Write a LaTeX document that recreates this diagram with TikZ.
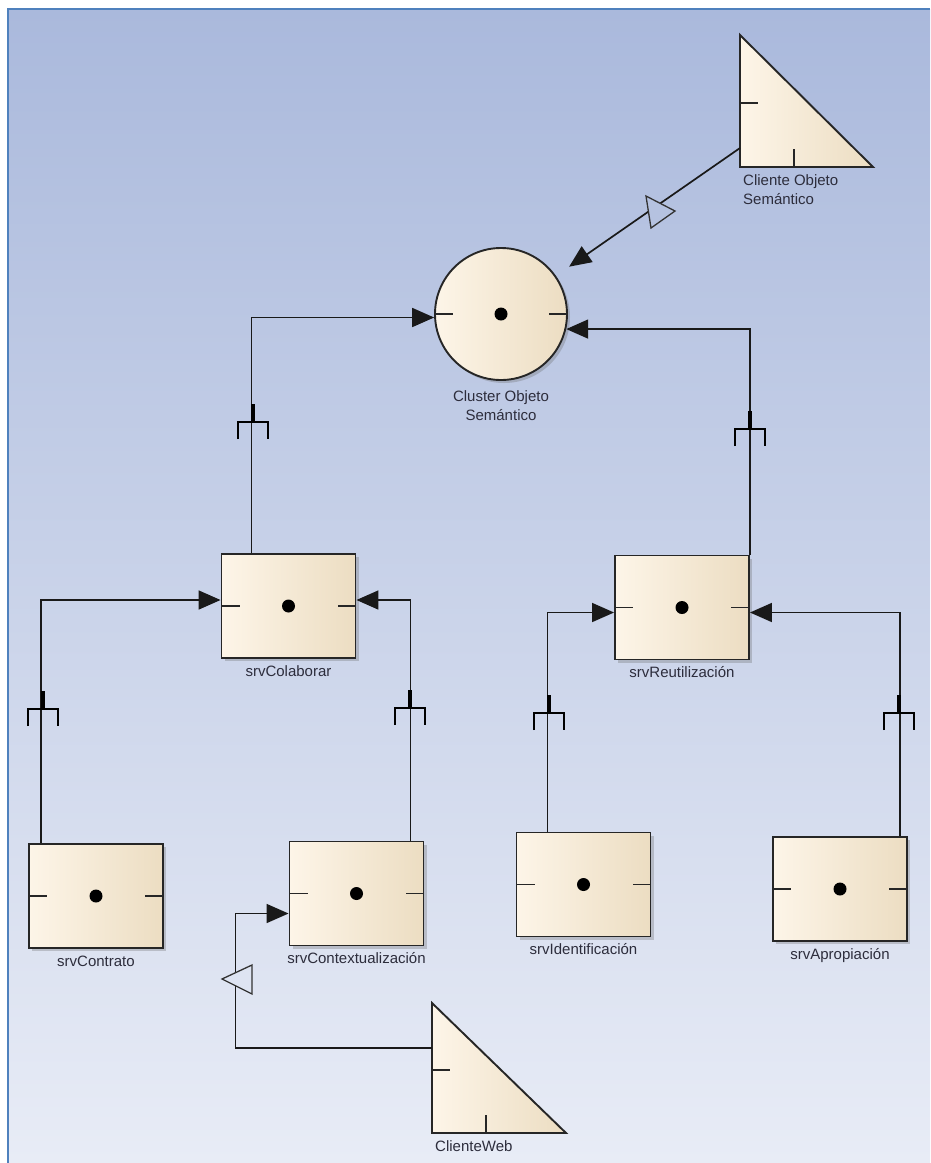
\documentclass[tikz,border=0pt]{standalone}
\usepackage{fontspec}
\setmainfont{Liberation Sans}
\usetikzlibrary{arrows.meta, positioning, calc, shadows}
\definecolor{bgtop}{RGB}{170,185,220}
\definecolor{bgbottom}{RGB}{232,236,246}
\definecolor{frameblue}{RGB}{79,129,189}
\definecolor{creamlight}{RGB}{253,245,232}
\definecolor{creamdark}{RGB}{236,221,194}
\definecolor{labelgray}{RGB}{45,45,60}
\definecolor{markbgtop}{RGB}{181,194,224}
\definecolor{markbgbot}{RGB}{222,228,242}

\begin{document}
\begin{tikzpicture}[
    x=1pt, y=-1pt,
    srvbox/.style={rectangle, draw=black!85, line width=1.9pt, left color=creamlight, right color=creamdark,
        minimum width=134pt, minimum height=104pt, inner sep=0pt,
        drop shadow={shadow xshift=3pt, shadow yshift=-3pt, opacity=0.3, fill=black!60},
        path picture={
            \draw[line width=1.8pt] (path picture bounding box.west) -- ++(18pt,0pt);
            \draw[line width=1.8pt] (path picture bounding box.east) -- ++(-18pt,0pt);
            \fill (path picture bounding box.center) circle (6.5pt);
        }},
    cluster/.style={srvbox, circle, minimum size=132pt},
    tri/.style={draw=black!85, line width=1.9pt, left color=creamlight, right color=creamdark},
    tick/.style={line width=1.6pt, draw=black!85},
    lbl/.style={font=\fontsize{15}{19}\selectfont, text=labelgray, inner sep=0pt},
    boxlbl/.style={lbl, text height=11pt, text depth=3pt},
    conn/.style={line width=1.7pt, draw=black!90, -{Triangle[length=22pt,width=19pt]}},
    openmark/.style={line width=1.3pt, draw=black!80},
    reqfork/.pic={
        \draw[line width=3.5pt] (0,-18) -- (0,0);
        \draw[line width=1.7pt] (-15,17) -- (-15,0) -- (15,0) -- (15,17);
    }
]
\useasboundingbox (0,0) rectangle (930,1163);
% background and frame
\fill[white] (0,0) rectangle (930,1163);
\shade[top color=bgtop, bottom color=bgbottom] (8,9) rectangle (930,1163);
\draw[frameblue, line width=2.5pt] (8,1163) -- (8,9) -- (930,9);

% actors
\draw[tri] (740,35) -- (740,167) -- (873,167) -- cycle;
\draw[tick] (740,103) -- (758,103);
\draw[tick] (794,149) -- (794,167);
\coordinate (cos) at (740,148);
\node[lbl, align=left, anchor=north west] (cos-lbl) at (743,174) {Cliente Objeto\\Semántico};

\draw[tri] (432,1003) -- (432,1133) -- (566,1133) -- cycle;
\draw[tick] (432,1070) -- (450,1070);
\draw[tick] (486,1115) -- (486,1133);
\coordinate (cws) at (432,1048);
\node[lbl, anchor=north west] (cws-lbl) at (435,1140.5) {ClienteWeb};

% components
\node[cluster] (cluster) at (501,314) {};
\node[lbl, align=center, below=9pt of cluster] (cluster-lbl) {Cluster Objeto\\Semántico};

\node[srvbox] (colab) at (288.5,606) {};
\node[srvbox] (reutil) at (682,607.5) {};
\node[srvbox] (contrato) at (96,896) {};
\node[srvbox] (context) at (356.5,893.5) {};
\node[srvbox] (ident) at (583.5,884.5) {};
\node[srvbox] (aprop) at (840,889) {};

\node[boxlbl, below=6pt of colab] (colab-lbl) {srvColaborar};
\node[boxlbl, below=6pt of reutil] (reutil-lbl) {srvReutilización};
\node[boxlbl, below=6pt of contrato] (contrato-lbl) {srvContrato};
\node[boxlbl, below=6pt of context] (context-lbl) {srvContextualización};
\node[boxlbl, below=6pt of ident] (ident-lbl) {srvIdentificación};
\node[boxlbl, below=6pt of aprop] (aprop-lbl) {srvApropiación};

% connectors
\draw[conn, shorten >=16pt] (cos) -- (cluster);
\draw[conn] ([xshift=31pt]colab.north west) |- (cluster.183.5);
\draw[conn] (reutil.north east) |- (cluster.347);
\draw[conn] ([xshift=13pt]contrato.north west) |- ([yshift=6pt]colab.west);
\draw[conn] ([xshift=-14pt]context.north east) |- ([yshift=6pt]colab.east);
\draw[conn] ([xshift=32pt]ident.north west) |- ([yshift=-5pt]reutil.west);
\draw[conn] ([xshift=-8pt]aprop.north east) |- ([yshift=-5pt]reutil.east);
\draw[conn] (cws) -| ([xshift=-53pt,yshift=-20pt]context.west) -- ([yshift=-20pt]context.west);

% markers
\draw[openmark, fill=markbgtop] (646,196) -- (675,211) -- (651,228) -- cycle;
\draw[openmark, fill=markbgbot] (222,979) -- (252,965) -- (252,994) -- cycle;
\pic at (253,422) {reqfork};
\pic at (750,429) {reqfork};
\pic at (43,709) {reqfork};
\pic at (410,708) {reqfork};
\pic at (549,713) {reqfork};
\pic at (899,713) {reqfork};
\end{tikzpicture}
\end{document}
